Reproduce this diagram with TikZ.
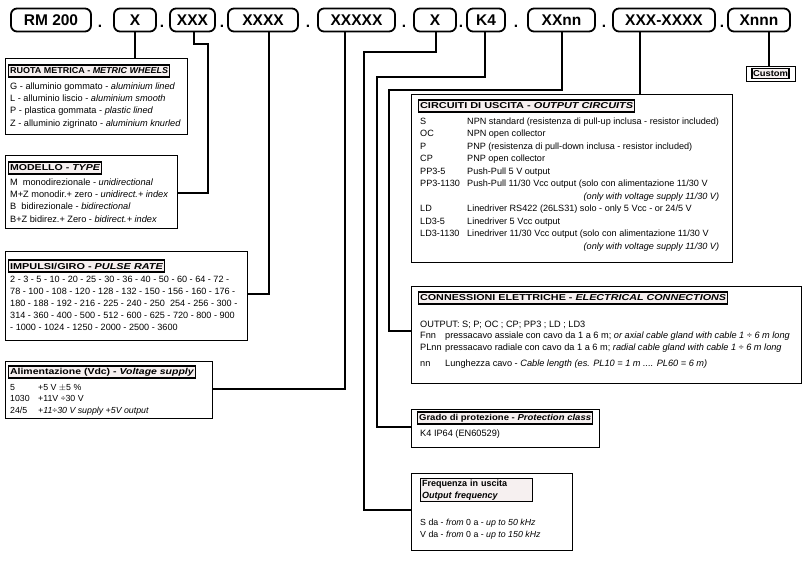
\documentclass[tikz,border=0pt]{standalone}
\usepackage{fontspec}
\setmainfont{Liberation Sans}
\usetikzlibrary{calc}
\definecolor{titlefill}{RGB}{246,240,240}
\newcommand\topfont{\fontsize{15.5}{16}\selectfont\bfseries}
\newcommand\txtfont{\fontsize{9.2}{12.4}\selectfont}
\newcommand\ttlfont{\fontsize{8.6}{10}\selectfont\bfseries}
\newcommand\fitw[2]{\resizebox{#1}{\height}{#2}}
\begin{document}
\begin{tikzpicture}[x=1pt,y=-1pt,
  codebox/.style={draw, line width=1.8pt, rounded corners=6pt, inner sep=0pt, minimum height=23, font=\topfont},
  dotlbl/.style={inner sep=0pt, font=\topfont},
  bigbox/.style={draw, line width=1.1pt, inner sep=0pt, anchor=north west},
  titlebox/.style={draw, line width=1.2pt, fill=titlefill, inner sep=1.5pt, minimum height=12, font=\ttlfont, anchor=west},
  txt/.style={inner sep=0pt, anchor=base west, font=\txtfont},
  conn/.style={line width=1.1pt}]
\useasboundingbox (0,0) rectangle (803,563);

% top row
\node[codebox, minimum width=80] (rm) at (51,20) {RM 200};
\node[dotlbl] (d1) at (100,26) {.};
\node[codebox, minimum width=42] (xa) at (135,20) {X};
\node[dotlbl] (d2) at (162,26) {.};
\node[codebox, minimum width=45] (xxx) at (192.5,20) {XXX};
\node[dotlbl] (d3) at (222,26) {.};
\node[codebox, minimum width=70] (x4) at (263,20) {XXXX};
\node[dotlbl] (d4) at (308,26) {.};
\node[codebox, minimum width=77] (x5) at (356.5,20) {XXXXX};
\node[dotlbl] (d5) at (404,26) {.};
\node[codebox, minimum width=42] (xb) at (435,20) {X};
\node[dotlbl] (d6) at (461,26) {.};
\node[codebox, minimum width=38] (k4) at (486,20) {K4};
\node[dotlbl] (d7) at (516,26) {.};
\node[codebox, minimum width=67] (xxnn) at (561.5,20) {XXnn};
\node[dotlbl] (d8) at (604,26) {.};
\node[codebox, minimum width=102] (x7) at (664,20) {XXX-XXXX};
\node[dotlbl] (d9) at (722,26) {.};
\node[codebox, minimum width=62] (xnnn) at (759,20) {Xnnn};

% big boxes
\node[bigbox, minimum width=182, minimum height=76] (ruota) at (5,58) {};
\node[bigbox, minimum width=172, minimum height=73] (modello) at (5,155) {};
\node[bigbox, minimum width=242, minimum height=89] (imp) at (5,251) {};
\node[bigbox, minimum width=207, minimum height=57] (alim) at (5,361) {};
\node[bigbox, minimum width=321, minimum height=168] (circ) at (411,94) {};
\node[bigbox, minimum width=390, minimum height=97] (conn) at (411,286) {};
\node[bigbox, minimum width=188, minimum height=38] (grado) at (411,409) {};
\node[bigbox, minimum width=161, minimum height=77] (freq) at (411,473) {};
\node[bigbox, minimum width=49, minimum height=15] (custom) at (746,66) {};

% RUOTA
\node[titlebox] (ruotaT) at (8,71) {\fitw{158pt}{RUOTA METRICA - \textit{METRIC WHEELS}}};
\node[txt] (ruotaL) at (10,89) {\begin{tabular}[t]{@{}l@{}}
G - alluminio gommato - \textit{aluminium lined}\\
L - alluminio liscio - \textit{aluminium smooth}\\
P - plastica gommata - \textit{plastic lined}\\
Z - alluminio zigrinato - \textit{aluminium knurled}
\end{tabular}};

% MODELLO
\node[titlebox] (modT) at (8,168) {\fitw{90pt}{MODELLO - \textit{TYPE}}};
\node[txt] (modL) at (10,185) {\begin{tabular}[t]{@{}l@{}}
M \ monodirezionale - \textit{unidirectional}\\
M+Z monodir.+ zero - \textit{unidirect.+ index}\\
B \ bidirezionale - \textit{bidirectional}\\
B+Z bidirez.+ Zero - \textit{bidirect.+ index}
\end{tabular}};

% IMPULSI
\node[titlebox] (impT) at (8,266) {\fitw{153pt}{IMPULSI/GIRO - \textit{PULSE RATE}}};
\node[txt, font=\fontsize{9.1}{12.2}\selectfont] (impL) at (10,282) {\begin{tabular}[t]{@{}l@{}}
2 - 3 - 5 - 10 - 20 - 25 - 30 - 36 - 40 - 50 - 60 - 64 - 72 -\\
78 - 100 - 108 - 120 - 128 - 132 - 150 - 156 - 160 - 176 -\\
180 - 188 - 192 - 216 - 225 - 240 - 250 \ 254 - 256 - 300 -\\
314 - 360 - 400 - 500 - 512 - 600 - 625 - 720 - 800 - 900\\
- 1000 - 1024 - 1250 - 2000 - 2500 - 3600
\end{tabular}};

% ALIMENTAZIONE
\node[titlebox] (alimT) at (8,372) {\fitw{184pt}{Alimentazione (Vdc) - \textit{Voltage supply}}};
\node[txt, font=\fontsize{8.8}{11.6}\selectfont] (alimL) at (10,390) {\begin{tabular}[t]{@{}p{28pt}@{}l@{}}
5 & +5 V $\pm$5 \%\\
1030 & +11V ÷30 V\\
24/5 & \textit{+11÷30 V supply +5V output}
\end{tabular}};

% CIRCUITI
\node[titlebox] (circT) at (418,106) {\fitw{213pt}{CIRCUITI DI USCITA - \textit{OUTPUT CIRCUITS}}};
\node[txt, font=\fontsize{9.1}{12.5}\selectfont] (circL) at (420,124) {\begin{tabular}[t]{@{}p{47pt}@{}l@{}}
S & NPN standard (resistenza di pull-up inclusa - resistor included)\\
OC & NPN open collector\\
P & PNP (resistenza di pull-down inclusa - resistor included)\\
CP & PNP open collector\\
PP3-5 & Push-Pull 5 V output\\
PP3-1130 & Push-Pull 11/30 Vcc output (solo con alimentazione 11/30 V\\
\multicolumn{2}{@{}r@{\hspace{0pt}}}{\textit{(only with voltage supply 11/30 V)}}\\
LD & Linedriver RS422 (26LS31) solo - only 5 Vcc - or 24/5 V\\
LD3-5 & Linedriver 5 Vcc output\\
LD3-1130 & Linedriver 11/30 Vcc output (solo con alimentazione 11/30 V\\
\multicolumn{2}{@{}r@{\hspace{0pt}}}{\textit{(only with voltage supply 11/30 V)}}
\end{tabular}};

% CONNESSIONI
\node[titlebox] (connT) at (418,298) {\fitw{306pt}{CONNESSIONI ELETTRICHE - \textit{ELECTRICAL CONNECTIONS}}};
\node[txt, font=\fontsize{9.2}{11.5}\selectfont] (connL) at (420,327) {\begin{tabular}[t]{@{}p{25pt}@{}l@{}}
\multicolumn{2}{@{}l@{}}{OUTPUT: S; P; OC ; CP; PP3 ; LD ; LD3}\\
Fnn & pressacavo assiale con cavo da 1 a 6 m; \textit{or axial cable gland with cable 1 ÷ 6 m long}\\
PLnn & pressacavo radiale con cavo da 1 a 6 m; \textit{radial cable gland with cable 1 ÷ 6 m long}\\[5pt]
nn & Lunghezza cavo - \textit{Cable length (es. PL10 = 1 m .... PL60 = 6 m)}
\end{tabular}};

% GRADO
\node[titlebox] (gradoT) at (417,418) {\fitw{172pt}{Grado di protezione - \textit{Protection class}}};
\node[txt] (gradoL) at (420,436) {K4 IP64 (EN60529)};

% FREQUENZA
\node[titlebox, font=\fontsize{9}{12}\selectfont\bfseries, align=left, text width=109pt, inner sep=1.5pt] (freqT) at (420,490) {Frequenza in uscita\\\textit{Output frequency}};
\node[txt, font=\fontsize{8.8}{12}\selectfont] (freqL) at (420,525) {\begin{tabular}[t]{@{}l@{}}
S da - \textit{from} 0 a - \textit{up to 50 kHz}\\
V da - \textit{from} 0 a - \textit{up to 150 kHz}
\end{tabular}};

% CUSTOM
\node[titlebox, anchor=center, minimum height=10, inner sep=1pt] (customT) at (770.5,73.5) {\fitw{35pt}{Custom}};

% connector bend points
\coordinate (c3a) at (194,44);
\coordinate (c3b) at (208,44);
\coordinate (c3c) at (208,193);
\coordinate (c4) at (269,294);
\coordinate (c5) at (345,389);
\coordinate (c6a) at (436,52);
\coordinate (c6b) at (364,52);
\coordinate (c6c) at (364,510);
\coordinate (c7a) at (485,77);
\coordinate (c7b) at (377,77);
\coordinate (c7c) at (377,427);
\coordinate (c8a) at (562,90);
\coordinate (c8b) at (389,90);
\coordinate (c8c) at (389,331);
\coordinate (c9) at (640,94);
\coordinate (c10) at (769,66);

% connectors
\draw[conn] (xa.south) -- (xa.south |- ruota.north);
\draw[conn] (xxx.south -| c3a) -- (c3a) -- (c3b) -- (c3c) -- (modello.east |- c3c);
\draw[conn] (x4.south -| c4) -- (c4) -- (imp.east |- c4);
\draw[conn] (x5.south -| c5) -- (c5) -- (alim.east |- c5);
\draw[conn] (xb.south -| c6a) -- (c6a) -- (c6b) -- (c6c) -- (freq.west |- c6c);
\draw[conn] (k4.south -| c7a) -- (c7a) -- (c7b) -- (c7c) -- (grado.west |- c7c);
\draw[conn] (xxnn.south -| c8a) -- (c8a) -- (c8b) -- (c8c) -- (conn.west |- c8c);
\draw[conn] (x7.south -| c9) -- (c9);
\draw[conn] (xnnn.south -| c10) -- (c10);
\end{tikzpicture}
\end{document}
